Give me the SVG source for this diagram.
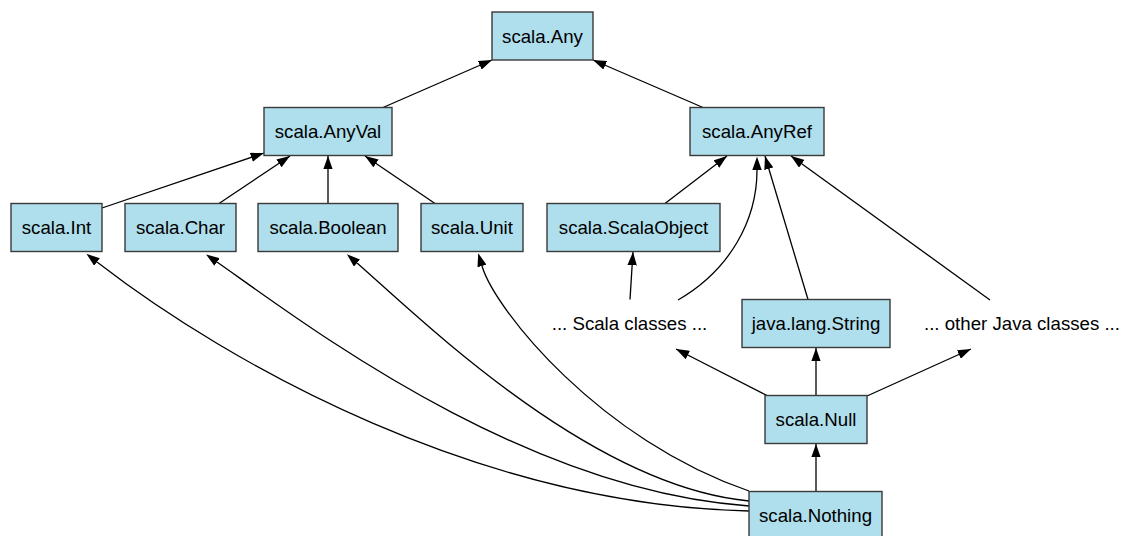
<svg xmlns="http://www.w3.org/2000/svg" width="1123" height="536" viewBox="0 0 1123 536">
<style>
  .box { fill: #afdeec; stroke: #3a3a3a; stroke-width: 1.4; }
  .lbl { font-family: "Liberation Sans", Arial, sans-serif; font-size: 18.67px; fill: #000; text-anchor: middle; }
  .e { fill: none; stroke: #000; stroke-width: 1.3; }
  .t { marker-end: url(#tip); }
  .b { marker-end: url(#base); }
</style>
<defs>
  <marker id="tip" markerUnits="userSpaceOnUse" viewBox="0 0 13.3 9.4" markerWidth="13.3" markerHeight="9.4" refX="13.3" refY="4.7" orient="auto">
    <path d="M0,0 L13.3,4.7 L0,9.4 z" fill="#000"/>
  </marker>
  <marker id="base" markerUnits="userSpaceOnUse" viewBox="0 0 13.3 9.4" markerWidth="13.3" markerHeight="9.4" refX="0" refY="4.7" orient="auto">
    <path d="M0,0 L13.3,4.7 L0,9.4 z" fill="#000"/>
  </marker>
</defs>
<g id="connectors">
  <path class="e t" d="M383,107.5 L492,60"/>
  <path class="e t" d="M703,107.5 L593,60"/>
  <path class="e t" d="M102,208 L264,153"/>
  <path class="e t" d="M219,203.5 L290,156"/>
  <path class="e t" d="M328,203.5 L328,156"/>
  <path class="e t" d="M435,203.5 L365,156"/>
  <path class="e t" d="M665,203.5 L727,156"/>
  <path class="e t" d="M630,299.5 L633,252"/>
  <path class="e b" d="M678,300 C730,270 757,220 757,170"/>
  <path class="e t" d="M808,299.5 L765,156"/>
  <path class="e t" d="M990,300 L791,156"/>
  <path class="e t" d="M767,395.5 L676,349"/>
  <path class="e t" d="M816,395.5 L816,348"/>
  <path class="e t" d="M867,396 L971,349"/>
  <path class="e t" d="M816,491.5 L816,444"/>
  <path class="e b" d="M749,511 C480,505 230,365 97,262"/>
  <path class="e b" d="M749,506 C520,490 300,320 217,262"/>
  <path class="e b" d="M749,501 C590,486 420,318 357,263"/>
  <path class="e b" d="M749,491 C600,440 495,310 482,266"/>
</g>
<g id="any"><rect class="box" x="492" y="12" width="101" height="48"/><text class="lbl" x="542.5" y="42.5">scala.Any</text></g>
<g id="anyval"><rect class="box" x="264" y="107.5" width="128" height="48"/><text class="lbl" x="328" y="138">scala.AnyVal</text></g>
<g id="anyref"><rect class="box" x="690" y="107.5" width="134" height="48"/><text class="lbl" x="757" y="138">scala.AnyRef</text></g>
<g id="int"><rect class="box" x="11" y="203.5" width="91" height="48"/><text class="lbl" x="56.5" y="234">scala.Int</text></g>
<g id="char"><rect class="box" x="125" y="203.5" width="111" height="48"/><text class="lbl" x="180.5" y="234">scala.Char</text></g>
<g id="boolean"><rect class="box" x="258" y="203.5" width="140" height="48"/><text class="lbl" x="328" y="234">scala.Boolean</text></g>
<g id="unit"><rect class="box" x="421" y="203.5" width="102" height="48"/><text class="lbl" x="472" y="234">scala.Unit</text></g>
<g id="scalaobject"><rect class="box" x="547" y="203.5" width="173" height="48"/><text class="lbl" x="633.5" y="234">scala.ScalaObject</text></g>
<g id="scalaclasses"><text class="lbl" x="629.5" y="330">... Scala classes ...</text></g>
<g id="string"><rect class="box" x="742" y="299.5" width="148" height="48"/><text class="lbl" x="816" y="330">java.lang.String</text></g>
<g id="javaclasses"><text class="lbl" x="1022" y="330">... other Java classes ...</text></g>
<g id="null"><rect class="box" x="765" y="395.5" width="102" height="48"/><text class="lbl" x="816" y="426">scala.Null</text></g>
<g id="nothing"><rect class="box" x="749" y="491.5" width="133" height="48"/><text class="lbl" x="815.5" y="522">scala.Nothing</text></g>
</svg>
